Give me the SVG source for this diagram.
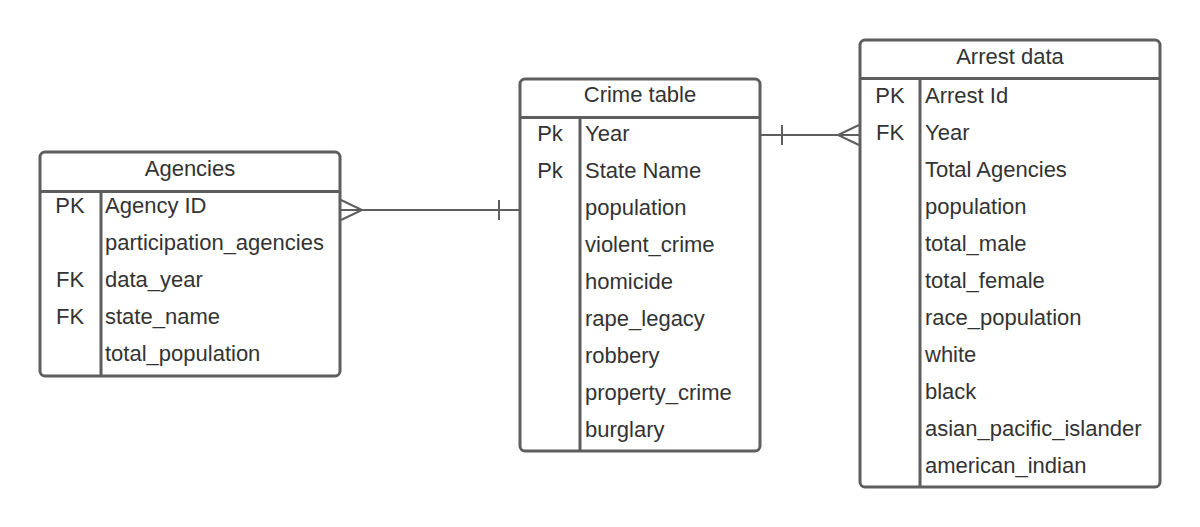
<svg xmlns="http://www.w3.org/2000/svg" width="1200" height="527" viewBox="0 0 1200 527">
<style>
.box{fill:#ffffff;stroke:#5e5e5e;stroke-width:3}
.ln{stroke:#5e5e5e;stroke-width:3;fill:none}
.cn{stroke:#5e5e5e;stroke-width:2;fill:none}
text{font-family:"Liberation Sans",Arial,sans-serif;font-size:22px;fill:#333333}
.t{text-anchor:middle}
.k{text-anchor:middle}
</style>
<rect width="1200" height="527" fill="#ffffff"/>
<g id="connectors">
<path class="cn" d="M340,210 H520"/>
<path class="cn" d="M341,200 L362,210 L341,220"/>
<path class="cn" d="M499,200 V220"/>
<path class="cn" d="M760,135 H860"/>
<path class="cn" d="M782,125 V145"/>
<path class="cn" d="M859,125 L838,135 L859,145"/>
</g>
<g id="agencies">
<rect class="box" x="40" y="152" width="300" height="224" rx="5"/>
<path class="ln" d="M40,191.5 H340 M101,191.5 V376"/>
<text class="t" x="190" y="176">Agencies</text>
<text class="k" x="70" y="213">PK</text>
<text x="105" y="213">Agency ID</text>
<text x="105" y="250">participation_agencies</text>
<text class="k" x="70" y="287">FK</text>
<text x="105" y="287">data_year</text>
<text class="k" x="70" y="324">FK</text>
<text x="105" y="324">state_name</text>
<text x="105" y="361">total_population</text>
</g>
<g id="crime_table">
<rect class="box" x="520" y="79" width="240" height="372" rx="5"/>
<path class="ln" d="M520,117.5 H760 M580,117.5 V451"/>
<text class="t" x="640" y="102">Crime table</text>
<text class="k" x="550" y="141">Pk</text>
<text x="585" y="141">Year</text>
<text class="k" x="550" y="178">Pk</text>
<text x="585" y="178">State Name</text>
<text x="585" y="215">population</text>
<text x="585" y="252">violent_crime</text>
<text x="585" y="289">homicide</text>
<text x="585" y="326">rape_legacy</text>
<text x="585" y="363">robbery</text>
<text x="585" y="400">property_crime</text>
<text x="585" y="437">burglary</text>
</g>
<g id="arrest_data">
<rect class="box" x="860" y="40" width="300" height="447" rx="5"/>
<path class="ln" d="M860,78.5 H1160 M920,78.5 V487"/>
<text class="t" x="1010" y="64">Arrest data</text>
<text class="k" x="890" y="103">PK</text>
<text x="925" y="103">Arrest Id</text>
<text class="k" x="890" y="140">FK</text>
<text x="925" y="140">Year</text>
<text x="925" y="177">Total Agencies</text>
<text x="925" y="214">population</text>
<text x="925" y="251">total_male</text>
<text x="925" y="288">total_female</text>
<text x="925" y="325">race_population</text>
<text x="925" y="362">white</text>
<text x="925" y="399">black</text>
<text x="925" y="436">asian_pacific_islander</text>
<text x="925" y="473">american_indian</text>
</g>
</svg>
